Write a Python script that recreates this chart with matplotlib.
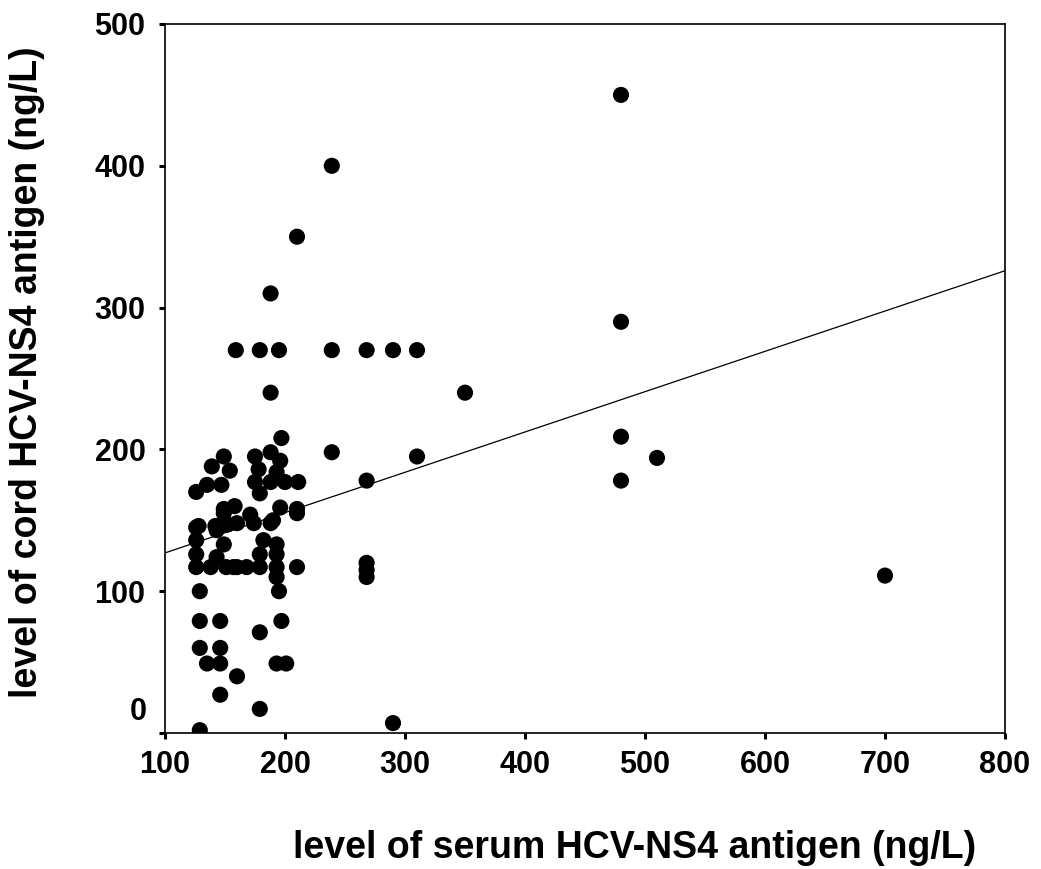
import numpy as np
import matplotlib
matplotlib.use("Agg")
import matplotlib.pyplot as plt

plt.rcParams['font.family'] = ['Liberation Sans', 'DejaVu Sans']
plt.rcParams['font.weight'] = 'bold'

# -- serum (x) / cord (y) HCV-NS4 antigen, ng/L
serum = [
    # dense group 120-215
    149, 139, 154, 126, 135, 147, 149, 128, 142, 152,
    197, 175, 188, 196, 178, 193, 175, 188, 200, 211,
    179, 196, 210, 158, 160, 174, 188,
    126, 126, 126, 126, 143, 149, 143, 138, 151, 160, 149,
    171, 190, 210, 182, 179, 193, 193, 157, 168, 179, 193, 210, 193, 195,
    # low values
    129, 129, 146, 129, 146, 135, 146, 160, 146, 179, 179, 129, 197, 193, 201,
    # spread out
    188, 159, 179, 195, 239, 268, 290, 310, 188, 210, 239,
    480, 480, 350, 239, 268, 310, 268, 268, 268, 480, 480, 510, 700, 290,
]
cord = [
    195, 188, 185, 170, 175, 175, 158, 146, 146, 147,
    208, 195, 198, 192, 186, 184, 177, 177, 177, 177,
    169, 159, 158, 160, 148, 148, 148,
    145, 136, 126, 117, 143, 133, 124, 117, 117, 117, 155,
    154, 150, 155, 136, 126, 133, 126, 117, 117, 117, 117, 117, 110, 100,
    100, 79, 79, 60, 60, 49, 49, 40, 27, 71, 17, 2, 79, 49, 49,
    310, 270, 270, 270, 270, 270, 270, 270, 240, 350, 400,
    450, 290, 240, 198, 178, 195, 120, 115, 110, 209, 178, 194, 111, 7,
]

# fitted line as drawn in the source
fit_x = [100, 800]
fit_y = [127, 326]

xticks = [100, 200, 300, 400, 500, 600, 700, 800]
yticks = [0, 100, 200, 300, 400, 500]

fig = plt.figure(figsize=(10.41, 8.69), dpi=100)
ax = fig.add_axes([165 / 1041, 1 - 733 / 869, 840 / 1041, 709 / 869])

ax.scatter(serum, cord, s=135, c='black', edgecolors='none', zorder=3)
ax.plot(fit_x, fit_y, color='black', lw=0.9, zorder=2)

ax.set_xlim(100, 800)
ax.set_ylim(0, 500)
ax.set_xticks(xticks)
ax.set_xticklabels([str(t) for t in xticks])
ax.set_yticks(yticks)
ax.set_yticklabels([''] + [str(t) for t in yticks[1:]])

for sp in ax.spines.values():
    sp.set_linewidth(1.2)
ax.tick_params(axis='both', direction='out', length=4, width=2.2,
               labelsize=22, colors='black')
ax.tick_params(axis='y', pad=10)
ax.tick_params(axis='x', pad=8)
for lab in ax.get_xticklabels() + ax.get_yticklabels():
    lab.set_fontweight('bold')

# the "0" label sits higher than its tick in the source
ax.annotate('0', xy=(0, 0), xycoords=('axes fraction', 'data'),
            xytext=(-18, 21), textcoords='offset pixels',
            ha='right', va='center', fontsize=22, fontweight='bold')

fig.text(27 / 1041, 1 - 372 / 869, 'level of cord HCV-NS4 antigen (ng/L)',
         rotation=90, ha='center', va='center', fontsize=27, fontweight='bold')
fig.text(635 / 1041, 1 - 848 / 869, 'level of serum HCV-NS4 antigen (ng/L)',
         ha='center', va='center', fontsize=27, fontweight='bold')

fig.savefig('out.png', dpi=100)
